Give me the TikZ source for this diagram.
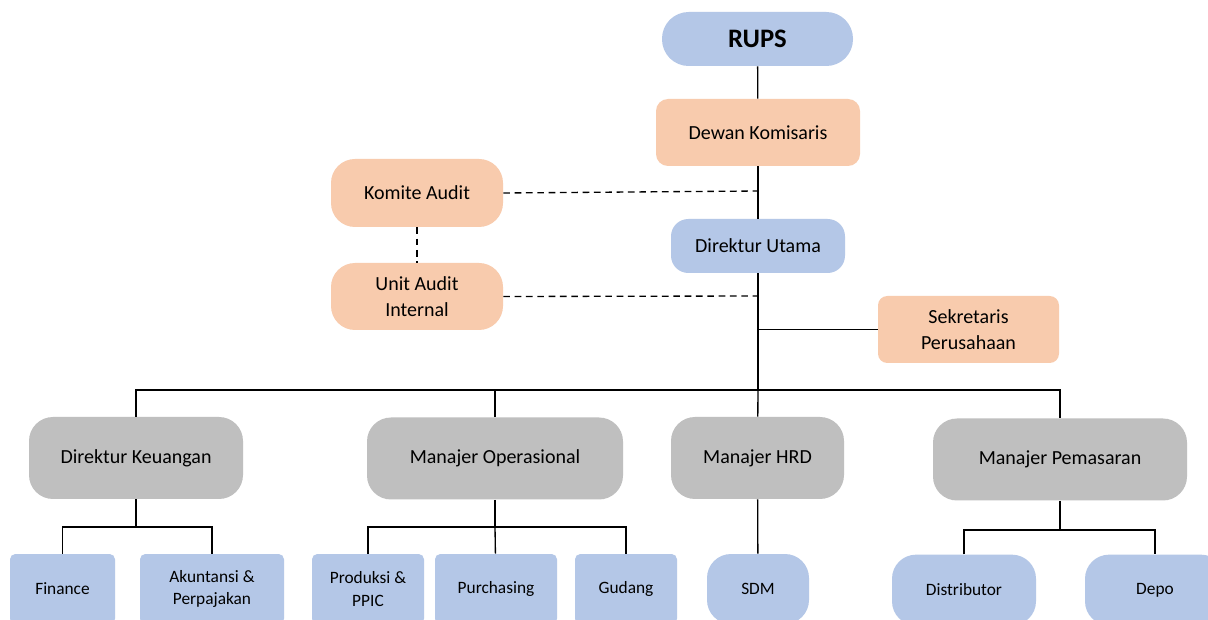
\documentclass[tikz,border=0pt]{standalone}
\usepackage{fontspec}
\setmainfont{Carlito}
\definecolor{boxblue}{HTML}{B4C7E7}
\definecolor{boxorange}{HTML}{F8CBAD}
\definecolor{boxgray}{HTML}{BFBFBF}
\tikzset{
  unit/.style={fill=#1, rounded corners=18pt, align=center, inner sep=2pt, font=\fontsize{15}{18}\selectfont},
  sub/.style={fill=boxblue, rounded corners=4pt, align=center, minimum height=52.5pt, inner sep=2pt, font=\fontsize{13}{16}\selectfont},
  link/.style={line width=1pt},
  dotlink/.style={line width=1pt, dash pattern=on 5pt off 3.5pt}
}
\begin{document}
\begin{tikzpicture}[x=0.75pt,y=-0.75pt]
\clip (0,0) rectangle (1208,620);
\fill[white] (0,0) rectangle (1208,620);
\node[unit=boxblue, rounded corners=20pt, minimum width=143.25pt, minimum height=40.5pt, font=\fontsize{20}{24}\selectfont\bfseries] (rups) at (757.5,39) {RUPS};
\node[unit=boxorange, rounded corners=9pt, minimum width=153pt, minimum height=50.25pt] (dekom) at (758,132.5) {Dewan Komisaris};
\node[unit=boxorange, minimum width=129pt, minimum height=51pt] (komite) at (417,193) {Komite Audit};
\node[unit=boxorange, minimum width=129pt, minimum height=50.25pt, font=\fontsize{15}{19}\selectfont] (uai) at (417,296.5) {Unit Audit\\Internal};
\node[unit=boxblue, rounded corners=13pt, minimum width=130.5pt, minimum height=40.5pt] (dirut) at (758,246) {Direktur Utama};
\node[unit=boxorange, rounded corners=7pt, minimum width=135.75pt, minimum height=50.25pt, font=\fontsize{15}{19}\selectfont] (sekper) at (968.5,329.5) {Sekretaris\\Perusahaan};
\node[unit=boxgray, minimum width=160.5pt, minimum height=61.5pt] (dirkeu) at (136,458) {Direktur Keuangan};
\node[unit=boxgray, minimum width=192pt, minimum height=61.5pt] (mgrops) at (495,458.5) {Manajer Operasional};
\node[unit=boxgray, minimum width=129.75pt, minimum height=61.5pt] (mgrhrd) at (757.5,458) {Manajer HRD};
\node[unit=boxgray, minimum width=190.5pt, minimum height=61.5pt] (mgrpem) at (1060,459.5) {Manajer Pemasaran};
\node[sub, minimum width=78.75pt] (finance) at (62.5,589) {Finance};
\node[sub, minimum width=108pt, font=\fontsize{13}{17}\selectfont] (akun) at (212,589) {Akuntansi \&\\Perpajakan};
\node[sub, minimum width=84pt, font=\fontsize{13}{17}\selectfont] (ppic) at (368,589) {Produksi \&\\PPIC};
\node[sub, minimum width=91.5pt] (purch) at (496,589) {Purchasing};
\node[sub, minimum width=76.5pt] (gudang) at (626,589) {Gudang};
\node[sub, rounded corners=18pt, minimum width=76.5pt] (sdm) at (758,589) {SDM};
\node[sub, rounded corners=18pt, minimum width=108pt, minimum height=53pt] (distr) at (964,590) {Distributor};
\node[sub, rounded corners=18pt, minimum width=105pt, minimum height=53pt] (depo) at (1155,590) {Depo};
\coordinate (ka) at (758,191);
\coordinate (ua) at (758,296);
\coordinate (bus) at (758,390);
\coordinate (keu) at (136,527);
\coordinate (ops) at (495,527);
\coordinate (pem) at (1060,530);
\draw[link] (rups) -- (dekom);
\draw[link] (dekom) -- (dirut);
\draw[link] (dirut) -- (bus);
\draw[link] (sekper.west) -- (sekper.west -| bus);
\draw[link] (dirkeu.north) |- (bus) -| (mgrpem.north);
\draw[link] (mgrops.north) -- (mgrops.north |- bus);
\draw[link] (bus) -- (mgrhrd);
\draw[dotlink] (komite.east) -- (ka);
\draw[dotlink] (uai.east) -- (ua);
\draw[dotlink] (komite) -- (uai);
\draw[link] (dirkeu) -- (keu);
\draw[link] (finance.north) |- (keu) -| (akun.north);
\draw[link] (mgrops) -- (ops);
\draw[link] (ppic.north) |- (ops) -| (gudang.north);
\draw[link] (ops) -- (purch);
\draw[link] (mgrhrd) -- (sdm);
\draw[link] (mgrpem) -- (pem);
\draw[link] (distr.north) |- (pem) -| (depo.north);
\end{tikzpicture}
\end{document}
